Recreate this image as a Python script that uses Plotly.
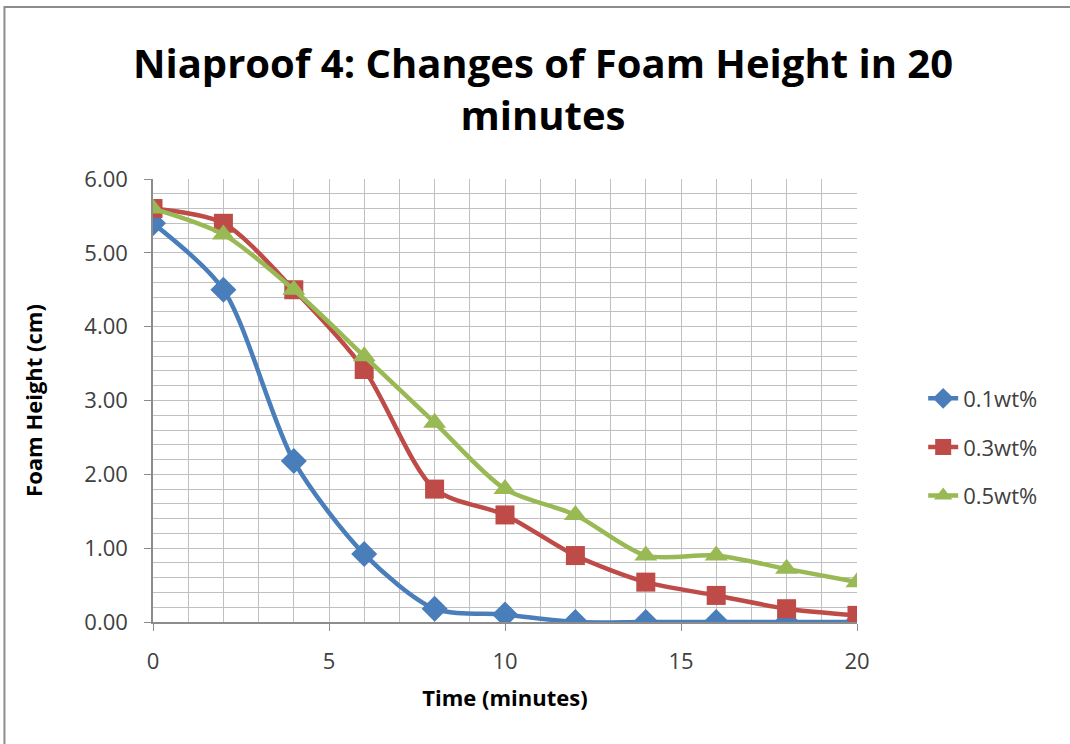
import plotly.graph_objects as go

time = [0, 2, 4, 6, 8, 10, 12, 14, 16, 18, 20]
s01 = [5.40, 4.50, 2.18, 0.92, 0.18, 0.10, 0.00, 0.00, 0.00, 0.00, 0.00]
s03 = [5.60, 5.40, 4.50, 3.42, 1.80, 1.45, 0.90, 0.54, 0.36, 0.18, 0.09]
s05 = [5.60, 5.25, 4.50, 3.60, 2.70, 1.80, 1.45, 0.90, 0.90, 0.72, 0.54]
names = ["0.1wt%", "0.3wt%", "0.5wt%"]
colors = ["#4a7ebb", "#be4b48", "#98b954"]
symbols = ["diamond", "square", "triangle-up"]
msizes = [20, 19, 20]

FONT = "Open Sans"
fig = go.Figure()
for ys, n, c, s, ms in zip([s01, s03, s05], names, colors, symbols, msizes):
    fig.add_trace(go.Scatter(
        x=time, y=ys, name=n, legendgroup=n, mode="lines+markers",
        line=dict(color=c, width=4.5, shape="spline", smoothing=0.8),
        marker=dict(symbol=s, size=ms, color=c),
    ))

fig.update_layout(
    width=1070, height=744,
    margin=dict(l=153, r=213, t=179, b=122),
    paper_bgcolor="white", plot_bgcolor="white",
    title=dict(text="<b>Niaproof 4: Changes of Foam Height in 20<br>minutes</b>",
               x=0.5075, xanchor="center", y=0.8945, yanchor="middle",
               font=dict(family=FONT, size=40, color="#000000")),
    legend=dict(x=1.094, y=0.395, xanchor="left", yanchor="middle",
                font=dict(family=FONT, size=22, color="#404040"),
                tracegroupgap=17, bgcolor="rgba(0,0,0,0)"),
    showlegend=True,
)
fig.update_xaxes(
    range=[0, 20], tickmode="linear", tick0=0, dtick=5,
    showgrid=True, gridcolor="#c0c0c0", gridwidth=1,
    minor=dict(dtick=1, showgrid=True, gridcolor="#c0c0c0", gridwidth=1),
    showline=True, linecolor="#8c8c8c", linewidth=1.5,
    ticks="outside", ticklen=7, tickcolor="#8c8c8c", ticklabelstandoff=12,
    tickfont=dict(family=FONT, size=22, color="#404040"),
    title=dict(text="<b>Time (minutes)</b>", font=dict(family=FONT, size=22, color="#000000"), standoff=16),
    zeroline=False,
)
fig.update_yaxes(
    range=[0, 6], tickmode="linear", tick0=0, dtick=1, tickformat=".2f",
    showgrid=True, gridcolor="#c0c0c0", gridwidth=1,
    minor=dict(dtick=0.2, showgrid=True, gridcolor="#c0c0c0", gridwidth=1),
    showline=True, linecolor="#8c8c8c", linewidth=1.5,
    ticks="outside", ticklen=7, tickcolor="#8c8c8c", ticklabelstandoff=12,
    tickfont=dict(family=FONT, size=22, color="#404040"),
    title=dict(text="<b>Foam Height (cm)</b>", font=dict(family=FONT, size=22, color="#000000"), standoff=36),
    zeroline=False,
)
fig.add_shape(type="rect", xref="paper", yref="paper",
              x0=-0.211, x1=2, y0=-2, y1=1.388,
              line=dict(color="#8c8c8c", width=2), layer="below")
fig.write_html("out.html")
